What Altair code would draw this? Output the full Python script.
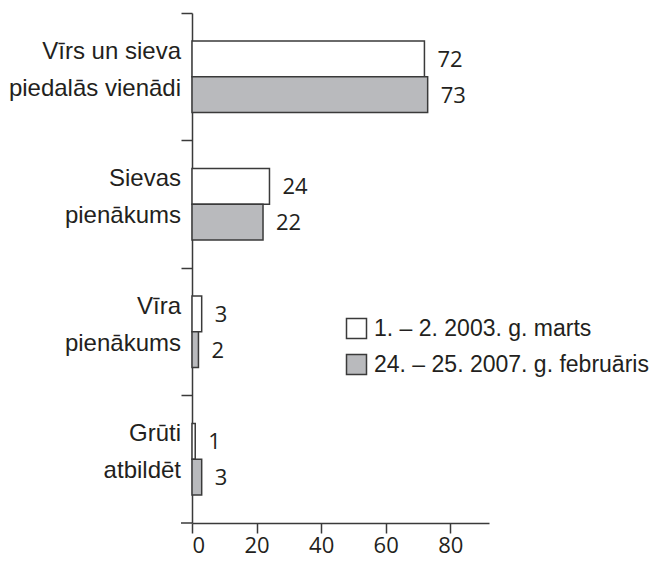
import altair as alt
import pandas as pd

categories = [
    "Vīrs un sieva\npiedalās vienādi",
    "Sievas\npienākums",
    "Vīra\npienākums",
    "Grūti\natbildēt",
]
series_names = ["1. – 2. 2003. g. marts", "24. – 25. 2007. g. februāris"]
values_2003 = [72, 24, 3, 1]
values_2007 = [73, 22, 2, 3]
x_ticks = [0, 20, 40, 60, 80]

rows = []
for i, c in enumerate(categories):
    rows.append({"cat": c, "series": series_names[0], "value": values_2003[i]})
    rows.append({"cat": c, "series": series_names[1], "value": values_2007[i]})
df = pd.DataFrame(rows)
lab_df = pd.DataFrame({"cat": categories})
one = pd.DataFrame({"a": [0]})

W, H = 297, 510
INK = "#231f20"
LINE = "#3a3a3a"

y_enc = alt.Y(
    "cat:N", sort=categories,
    scale=alt.Scale(paddingInner=0, paddingOuter=0),
    axis=alt.Axis(labels=False, title=None, bandPosition=0, tickSize=11,
                  domainColor=LINE, tickColor=LINE, domainWidth=1.5,
                  tickWidth=1.5, grid=False),
)
yoff = alt.YOffset("series:N", sort=series_names,
                   scale=alt.Scale(paddingInner=0, paddingOuter=0.78))
x_enc = alt.X(
    "value:Q",
    scale=alt.Scale(domain=[0, 92], nice=False, zero=True),
    axis=alt.Axis(values=x_ticks, title=None, tickSize=10, grid=False,
                  domainColor=LINE, tickColor=LINE, domainWidth=1.5,
                  tickWidth=1.5, labelFont="Open Sans", labelFontSize=22,
                  labelColor=INK, labelPadding=2),
)

bars = alt.Chart(df).mark_bar(stroke=LINE, strokeWidth=1.5).encode(
    x=x_enc,
    y=y_enc,
    yOffset=yoff,
    fill=alt.Fill(
        "series:N", sort=series_names,
        scale=alt.Scale(domain=series_names, range=["#ffffff", "#b9babd"]),
        legend=alt.Legend(
            title=None, orient="none", legendX=153, legendY=304,
            symbolType="square", symbolSize=400, symbolStrokeColor=LINE,
            symbolStrokeWidth=1.5, symbolOpacity=1,
            labelFont="Liberation Sans", labelFontSize=23, labelColor=INK,
            labelOffset=6, rowPadding=9, labelLimit=400,
        ),
    ),
)

vals = alt.Chart(df).mark_text(
    align="left", baseline="middle", dx=13, dy=1, font="Open Sans",
    fontSize=22, color=INK,
).encode(
    x=alt.X("value:Q"),
    y=alt.Y("cat:N", sort=categories),
    yOffset=alt.YOffset("series:N", sort=series_names),
    text="value:Q",
)

labels = alt.Chart(lab_df).mark_text(
    align="right", baseline="middle", lineBreak="\n", lineHeight=37, dy=-25,
    font="Liberation Sans", fontSize=24, color=INK,
).encode(
    x=alt.value(-11),
    y=alt.Y("cat:N", sort=categories),
    text="cat:N",
)

ext = alt.Chart(one).mark_rule(color=LINE, strokeWidth=1.5).encode(
    x=alt.value(-11), x2=alt.value(0), y=alt.value(H)
)

chart = alt.layer(bars, vals, labels, ext).properties(
    width=W, height=H,
    autosize=alt.AutoSizeParams(type="none"),
    padding={"left": 184, "top": 5, "right": 169, "bottom": 39},
).configure_view(stroke=None)

chart.save("out.html", embed_options={"renderer": "svg", "actions": False})
